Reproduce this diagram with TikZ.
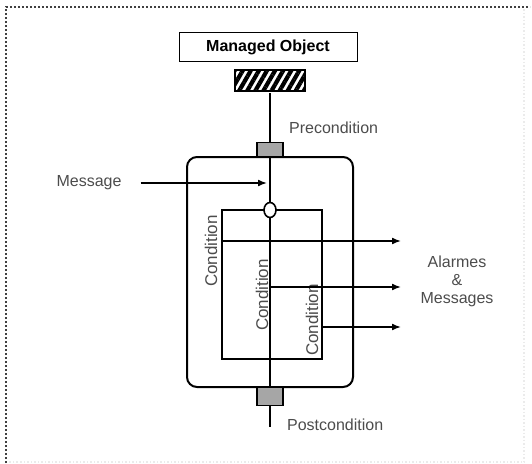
\documentclass[tikz,border=0pt]{standalone}
\usepackage{fontspec}
\setmainfont{Liberation Sans}
\usetikzlibrary{arrows.meta}
\usetikzlibrary{patterns.meta}
\usetikzlibrary{shapes.geometric}
\usetikzlibrary{calc}

\begin{document}
\begin{tikzpicture}[>/.tip={Latex[length=9pt,width=7pt]},x=1pt,y=-1pt,line width=1.6pt,
	font=\fontsize{16}{18}\selectfont]
	\useasboundingbox (0,0) rectangle (532,463);
	\draw[dotted,line width=2pt,black!75] (6,463) -- (6,7) -- (530,7);
	\draw[dotted,line width=1.5pt,black!8] (524,9) -- (524,462) -- (8,462);

	\draw (268,47) node (mo) [draw,line width=1pt,minimum width=178pt,minimum height=29pt,font=\bfseries\fontsize{16}{18}\selectfont] {Managed Object};
	\draw (270,80.5) node (hatch) [draw,line width=2pt,minimum width=70pt,minimum height=21pt,pattern={Lines[angle=60,distance=7pt,line width=4.2pt]}] {};
	\draw (270,272) node (outer) [draw,line width=2pt,rounded corners=10pt,minimum width=166pt,minimum height=230pt] {};
	\draw (270,149.5) node (pre) [draw,fill=black!35,inner sep=0pt,minimum width=26pt,minimum height=14pt] {};
	\draw (270,396.5) node (post) [draw,fill=black!35,inner sep=0pt,minimum width=26pt,minimum height=18pt] {};
	\draw (272,284.5) node (inner) [draw,minimum width=100pt,minimum height=149pt] {};
	\draw (270,210) node (hub) [draw,fill=white,shape=ellipse,inner sep=0pt,minimum width=12pt,minimum height=15pt] {};
	\coordinate (tail) at (270,427);

	\node [right,text=black!70] at (285,128) {Precondition};
	\node [right,text=black!70] at (283,425) {Postcondition};
	\draw (89,183) node (msg) [text=black!70] {Message};
	\coordinate (msgin) at (267,183);
	\node [rotate=90,text=black!70,font=\fontsize{17}{18}\selectfont] at (211,251) {Condition};
	\node [rotate=90,text=black!70,font=\fontsize{17}{18}\selectfont] at (262,295) {Condition};
	\node [rotate=90,text=black!70,font=\fontsize{17}{18}\selectfont] at (312,320) {Condition};
	\draw (457,281) node (out) [align=center,text=black!70] {Alarmes\\\&\\Messages};
	\coordinate (out1) at (401,241);
	\coordinate (out2) at (401,287);
	\coordinate (out3) at (401,327);

	\path (hatch) edge (pre);
	\path (pre) edge (hub);
	\path (hub) edge (post);
	\path (post) edge (tail);
	\path[->] (msg.east) edge [shorten <=15pt] (msgin);
	\path[->] (inner.west |- out1) edge (out1);
	\path[->] (hub |- out2) edge (out2);
	\path[->] (inner.east |- out3) edge (out3);
\end{tikzpicture}
\end{document}
